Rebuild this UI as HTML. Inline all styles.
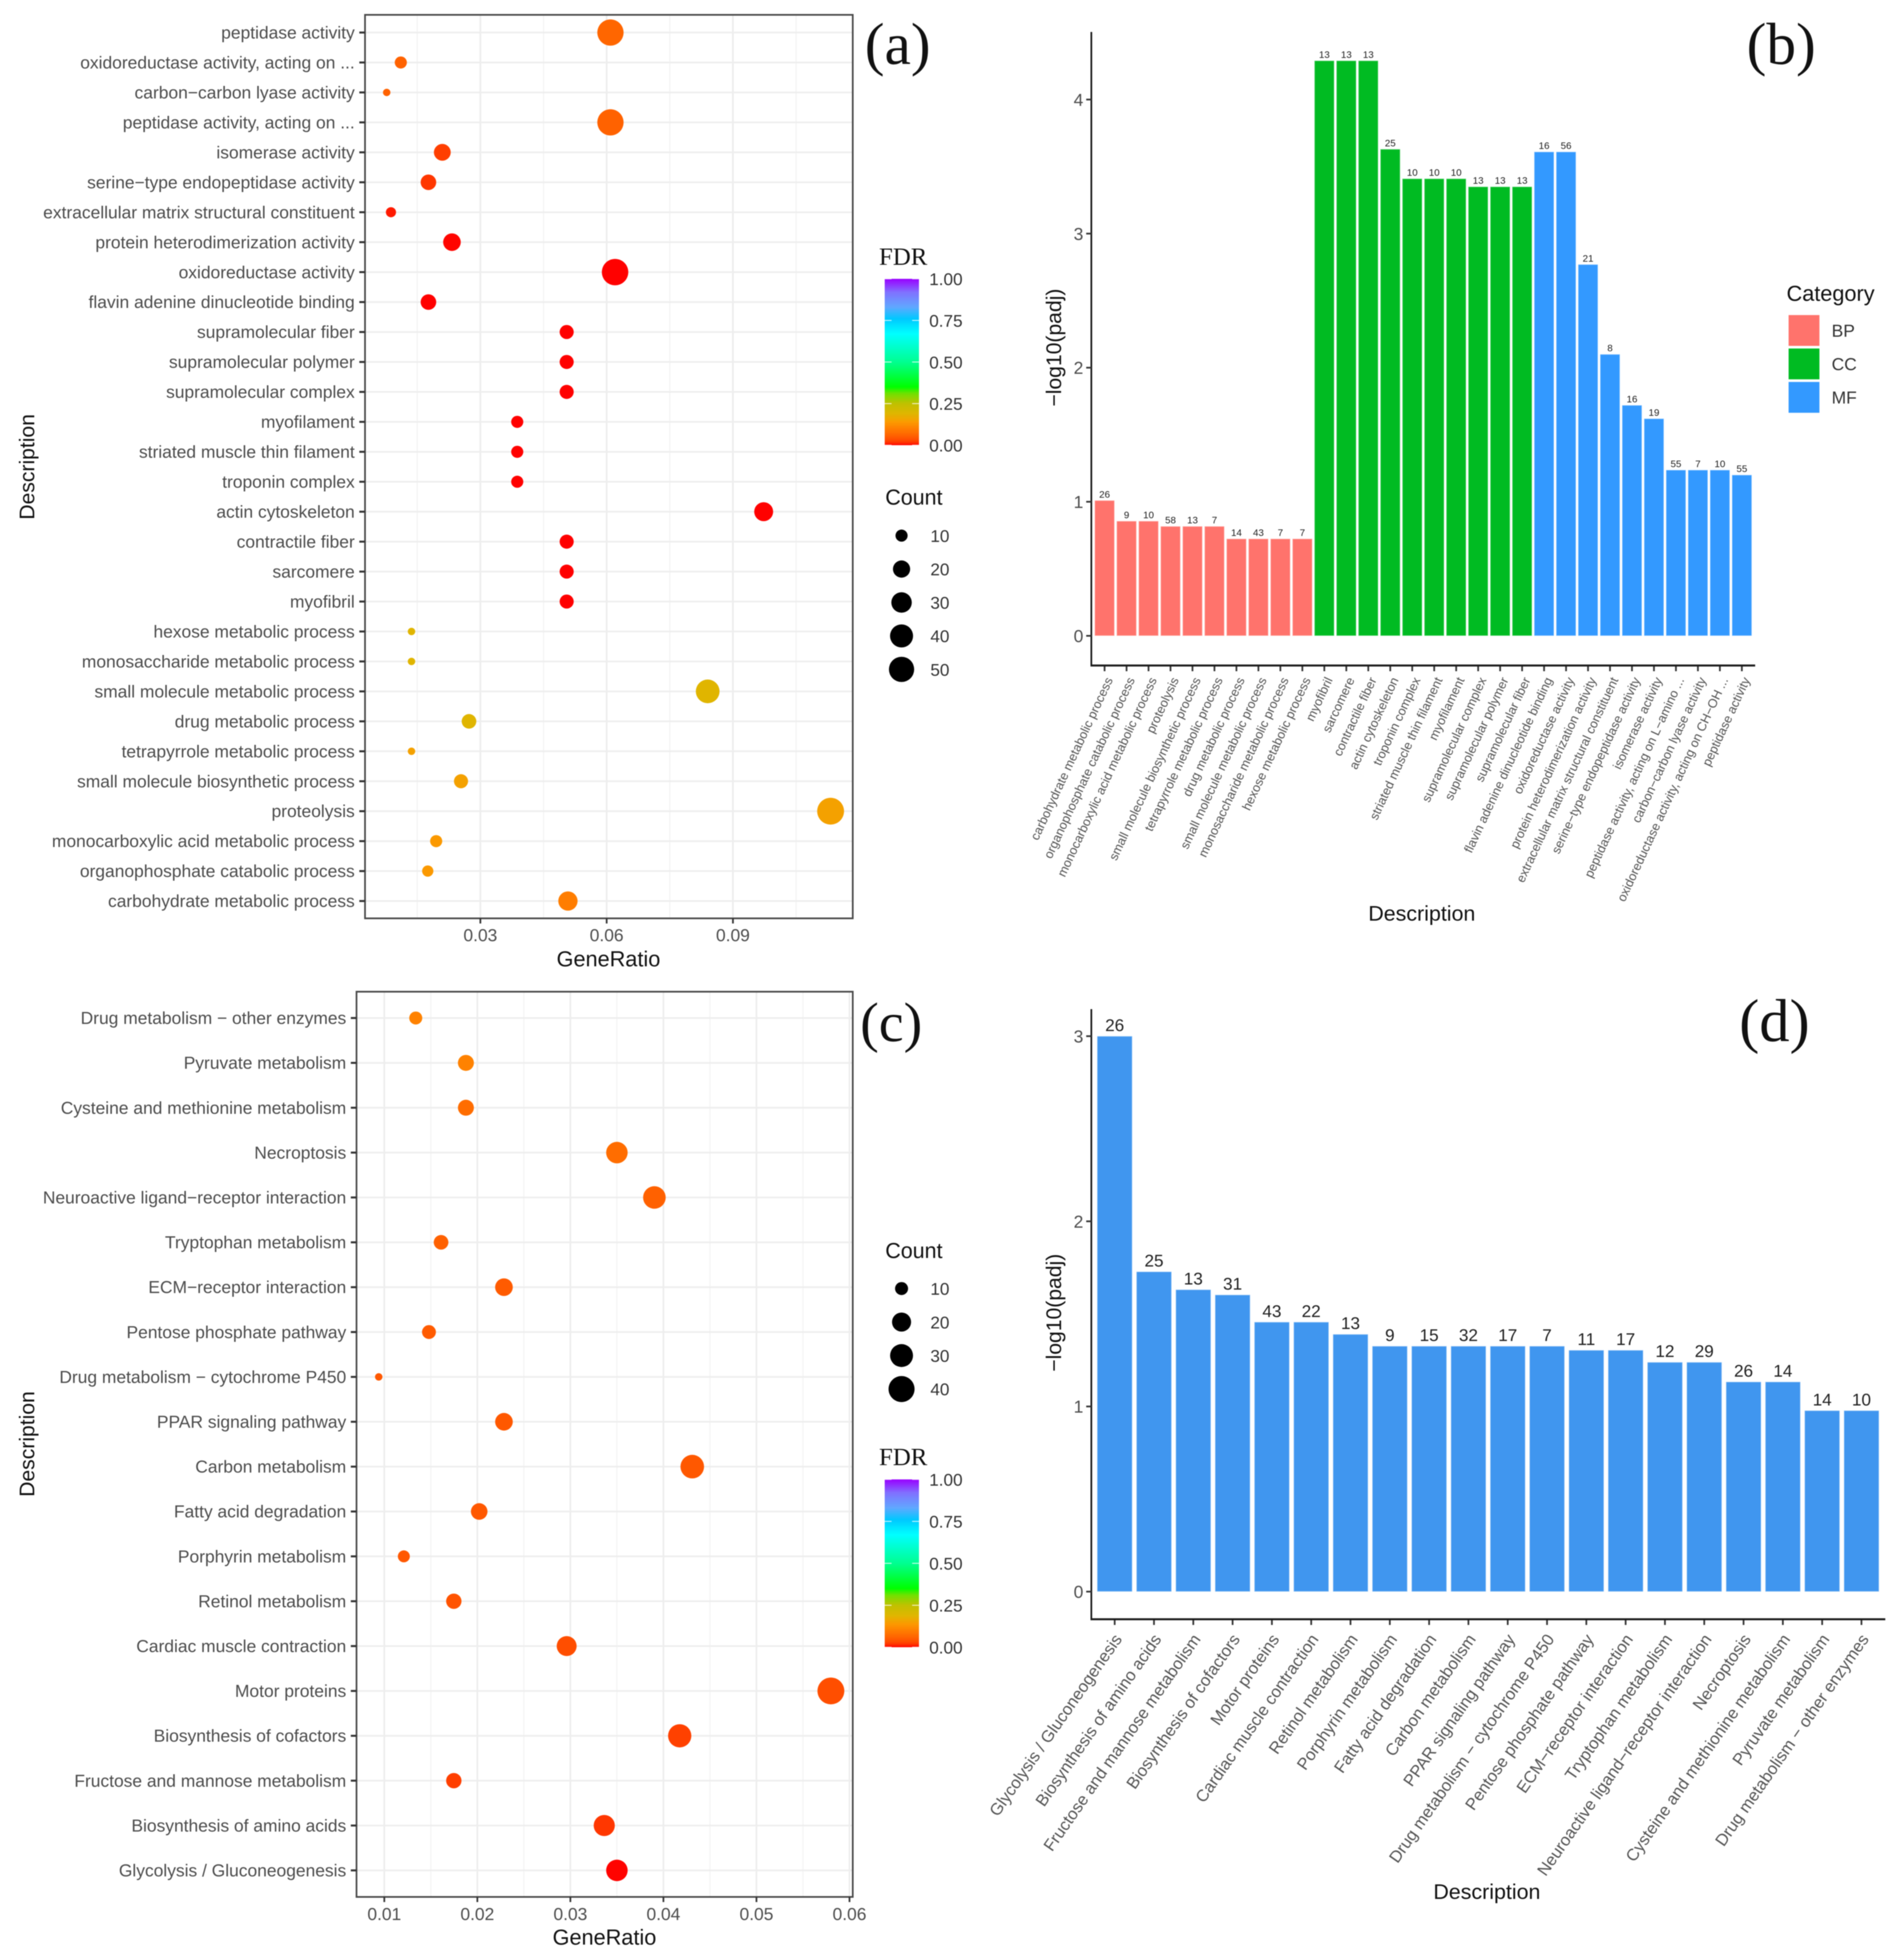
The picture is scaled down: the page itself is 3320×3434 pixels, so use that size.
<!DOCTYPE html>
<html lang="en">
<head>
<meta charset="utf-8">
<title>GO and KEGG enrichment charts</title>
<style>
html,body{margin:0;padding:0;background:#fff}
svg{display:block;filter:blur(0.9px)}
text{font-family:"Liberation Sans",sans-serif}
.serif{font-family:"Liberation Serif",serif}
</style>
</head>
<body>
<svg id="figure" xmlns="http://www.w3.org/2000/svg" width="3320" height="3434" viewBox="0 0 3320 3434">
<rect x="0" y="0" width="3320" height="3434" fill="#ffffff"/>
<defs>
<linearGradient id="fdrGradient" x1="0" y1="1" x2="0" y2="0"></linearGradient>
</defs>
<g id="panelA"></g>
<g id="panelB"></g>
<g id="panelC"></g>
<g id="panelD"></g>

<text class="serif" x="1515" y="112" font-size="104" fill="#111">(a)</text>
<text class="serif" x="3060" y="112" font-size="104" fill="#111">(b)</text>
<text class="serif" x="1507" y="1824" font-size="98" fill="#111">(c)</text>
<text class="serif" x="3047" y="1824" font-size="106" fill="#111">(d)</text>

<text x="1066" y="1693" font-size="38" text-anchor="middle" fill="#111">GeneRatio</text>
<text transform="translate(60,818) rotate(-90)" font-size="37" text-anchor="middle" fill="#111">Description</text>
<text x="1059" y="3407" font-size="38" text-anchor="middle" fill="#111">GeneRatio</text>
<text transform="translate(60,2530) rotate(-90)" font-size="37" text-anchor="middle" fill="#111">Description</text>
<text x="2491" y="1613" font-size="37.5" text-anchor="middle" fill="#111">Description</text>
<text transform="translate(1859,609) rotate(-90)" font-size="37" text-anchor="middle" fill="#111">−log10(padj)</text>
<text x="2605" y="3327" font-size="37.5" text-anchor="middle" fill="#111">Description</text>
<text transform="translate(1859,2300) rotate(-90)" font-size="37" text-anchor="middle" fill="#111">−log10(padj)</text>

<text class="serif" x="1540" y="464" font-size="43.5" fill="#111">FDR</text>
<text x="1551" y="884" font-size="37.6" fill="#111">Count</text>
<text class="serif" x="1540" y="2567" font-size="43.5" fill="#111">FDR</text>
<text x="1551" y="2204" font-size="37.6" fill="#111">Count</text>
<text x="3130" y="527" font-size="38" fill="#111">Category</text>
</svg>

<script>
/* ---------- panel (a) data ---------- */
const aLabels = ["peptidase activity","oxidoreductase activity, acting on ...","carbon\u2212carbon lyase activity","peptidase activity, acting on ...","isomerase activity","serine\u2212type endopeptidase activity","extracellular matrix structural constituent","protein heterodimerization activity","oxidoreductase activity","flavin adenine dinucleotide binding","supramolecular fiber","supramolecular polymer","supramolecular complex","myofilament","striated muscle thin filament","troponin complex","actin cytoskeleton","contractile fiber","sarcomere","myofibril","hexose metabolic process","monosaccharide metabolic process","small molecule metabolic process","drug metabolic process","tetrapyrrole metabolic process","small molecule biosynthetic process","proteolysis","monocarboxylic acid metabolic process","organophosphate catabolic process","carbohydrate metabolic process"];
const aGeneRatio = [0.0609,0.0111,0.00775,0.0609,0.02096,0.01766,0.00876,0.02325,0.062,0.01766,0.0505,0.0505,0.0505,0.03876,0.03876,0.03876,0.0973,0.0505,0.0505,0.0505,0.01364,0.01364,0.084,0.0273,0.01364,0.0254,0.1132,0.0195,0.0175,0.0508];
const aCount = [55,10,7,55,19,16,8,21,56,16,13,13,13,10,10,10,25,13,13,13,7,7,43,14,7,13,58,10,9,26];
const aFdr = [0.063,0.058,0.058,0.058,0.024,0.019,0.008,0.0017,0.00025,0.00025,0.00045,0.00045,0.00045,0.0004,0.0004,0.0004,0.00023,0.00005,0.00005,0.00005,0.189,0.189,0.189,0.189,0.152,0.152,0.152,0.139,0.139,0.098];
const aXTicks = [0.03,0.06,0.09];
const aXTickLabels = ["0.03","0.06","0.09"];
const aXMinor = [0.015,0.045,0.075,0.105];
const aCountLegend = [10,20,30,40,50];

/* ---------- panel (b) data ---------- */
const bLabels = ["carbohydrate metabolic process","organophosphate catabolic process","monocarboxylic acid metabolic process","proteolysis","small molecule biosynthetic process","tetrapyrrole metabolic process","drug metabolic process","small molecule metabolic process","monosaccharide metabolic process","hexose metabolic process","myofibril","sarcomere","contractile fiber","actin cytoskeleton","troponin complex","striated muscle thin filament","myofilament","supramolecular complex","supramolecular polymer","supramolecular fiber","flavin adenine dinucleotide binding","oxidoreductase activity","protein heterodimerization activity","extracellular matrix structural constituent","serine\u2212type endopeptidase activity","isomerase activity","peptidase activity, acting on L\u2212amino ...","carbon\u2212carbon lyase activity","oxidoreductase activity, acting on CH\u2212OH ...","peptidase activity"];
const bValues = [1.01,0.856,0.856,0.817,0.817,0.817,0.724,0.724,0.724,0.724,4.29,4.29,4.29,3.63,3.41,3.41,3.41,3.35,3.35,3.35,3.61,3.61,2.77,2.10,1.72,1.62,1.237,1.237,1.237,1.20];
const bCounts = [26,9,10,58,13,7,14,43,7,7,13,13,13,25,10,10,10,13,13,13,16,56,21,8,16,19,55,7,10,55];
const bCategories = ["BP","BP","BP","BP","BP","BP","BP","BP","BP","BP","CC","CC","CC","CC","CC","CC","CC","CC","CC","CC","MF","MF","MF","MF","MF","MF","MF","MF","MF","MF"];
const bYTicks = [0,1,2,3,4];
const bLegendKeys = ["BP","CC","MF"];

/* ---------- panel (c) data ---------- */
const cLabels = ["Drug metabolism \u2212 other enzymes","Pyruvate metabolism","Cysteine and methionine metabolism","Necroptosis","Neuroactive ligand\u2212receptor interaction","Tryptophan metabolism","ECM\u2212receptor interaction","Pentose phosphate pathway","Drug metabolism \u2212 cytochrome P450","PPAR signaling pathway","Carbon metabolism","Fatty acid degradation","Porphyrin metabolism","Retinol metabolism","Cardiac muscle contraction","Motor proteins","Biosynthesis of cofactors","Fructose and mannose metabolism","Biosynthesis of amino acids","Glycolysis / Gluconeogenesis"];
const cGeneRatio = [0.01338,0.01877,0.01877,0.035,0.03903,0.0161,0.02286,0.0148,0.0094,0.02286,0.0431,0.0202,0.0121,0.01747,0.0296,0.058,0.04175,0.01747,0.03364,0.035];
const cCount = [10,14,14,26,29,12,17,11,7,17,32,15,9,13,22,43,31,13,25,26];
const cFdr = [0.105,0.105,0.0736,0.0736,0.0577,0.0577,0.0497,0.0497,0.0472,0.0472,0.0472,0.0472,0.0472,0.0407,0.035,0.035,0.025,0.0234,0.0187,0.001];
const cXTicks = [0.01,0.02,0.03,0.04,0.05,0.06];
const cXTickLabels = ["0.01","0.02","0.03","0.04","0.05","0.06"];
const cXMinor = [0.015,0.025,0.035,0.045,0.055];
const cCountLegend = [10,20,30,40];

/* ---------- panel (d) data ---------- */
const dLabels = ["Glycolysis / Gluconeogenesis","Biosynthesis of amino acids","Fructose and mannose metabolism","Biosynthesis of cofactors","Motor proteins","Cardiac muscle contraction","Retinol metabolism","Porphyrin metabolism","Fatty acid degradation","Carbon metabolism","PPAR signaling pathway","Drug metabolism \u2212 cytochrome P450","Pentose phosphate pathway","ECM\u2212receptor interaction","Tryptophan metabolism","Neuroactive ligand\u2212receptor interaction","Necroptosis","Cysteine and methionine metabolism","Pyruvate metabolism","Drug metabolism \u2212 other enzymes"];
const dValues = [3.0,1.728,1.631,1.603,1.456,1.456,1.39,1.326,1.326,1.326,1.326,1.326,1.304,1.304,1.239,1.239,1.133,1.133,0.978,0.978];
const dCounts = [26,25,13,31,43,22,13,9,15,32,17,7,11,17,12,29,26,14,14,10];
const dYTicks = [0,1,2,3];

/* ---------- shared legend data ---------- */
const fdrLegendTicks = [0,0.25,0.5,0.75,1];
const fdrLegendLabels = ["0.00","0.25","0.50","0.75","1.00"];
const fdrScaleDomain = [0,0.01,0.02,0.035,0.063,0.1,0.14,0.19,0.25,0.31,0.35,0.5,0.67,0.76,0.83,0.92,1];
const fdrScaleColors = ["#ff0000","#ff2000","#ff3a00","#ff4e00","#ff6600","#ff7e00","#fb9a00","#dfb600","#c0c000","#70e000","#00ff00","#00ff90","#00ffff","#00c8ff","#60a8ff","#8070ff","#9900ff"];

/* ---------- helpers ---------- */
const NS = "http://www.w3.org/2000/svg";
function mk(parent, tag, attrs, content){
  const e = document.createElementNS(NS, tag);
  for(const k in attrs) e.setAttribute(k, attrs[k]);
  if(content !== undefined) e.textContent = content;
  parent.appendChild(e);
  return e;
}
function hex(c){return [parseInt(c.slice(1,3),16),parseInt(c.slice(3,5),16),parseInt(c.slice(5,7),16)];}
function fdrColor(v){
  for(let i=1;i<fdrScaleDomain.length;i++){
    if(v<=fdrScaleDomain[i]){
      const t=(v-fdrScaleDomain[i-1])/(fdrScaleDomain[i]-fdrScaleDomain[i-1]);
      const a=hex(fdrScaleColors[i-1]),b=hex(fdrScaleColors[i]);
      return "rgb("+a.map((x,j)=>Math.round(x+(b[j]-x)*t)).join(",")+")";
    }
  }
  return fdrScaleColors[fdrScaleColors.length-1];
}
function sizeScale(count, lo, hi){
  return 13 + 34*Math.sqrt((count-lo)/(hi-lo));
}

/* gradient for the FDR colour bars */
const grad = document.getElementById("fdrGradient");
fdrScaleDomain.forEach(function(d,i){
  mk(grad,"stop",{offset:d,"stop-color":fdrScaleColors[i]});
});

/* ---------- dot plot ---------- */
function dotPlot(cfg){
  const g = cfg.g;
  const x = cfg.x, y = cfg.y;
  const frame = cfg.frame;
  cfg.minor.forEach(function(t){
    const el = mk(g,"line",{x1:x(t),x2:x(t),y1:frame.top,y2:frame.bottom,stroke:"#f2f2f2","stroke-width":1.8});
    
    
  });
  cfg.ticks.forEach(function(t){
    const el = mk(g,"line",{x1:x(t),x2:x(t),y1:frame.top,y2:frame.bottom,stroke:"#ededed","stroke-width":3});
    
    
  });
  cfg.labels.forEach(function(l,i){
    const el = mk(g,"line",{x1:frame.left,x2:frame.right,y1:y(i),y2:y(i),stroke:"#eeeeee","stroke-width":3});
    
    
  });
  cfg.labels.forEach(function(l,i){
    const d = sizeScale(cfg.count[i],cfg.lo,cfg.hi);
    const el = mk(g,"circle",{cx:x(cfg.ratio[i]),cy:y(i),r:d/2,fill:fdrColor(cfg.fdr[i])});
    
    
  });
  const border = mk(g,"rect",{x:frame.left,y:frame.top,width:frame.right-frame.left,height:frame.bottom-frame.top,fill:"none",stroke:"#4a4a4a","stroke-width":3});
  
  
  cfg.labels.forEach(function(l,i){
    const tick = mk(g,"line",{x1:frame.left-10,x2:frame.left,y1:y(i),y2:y(i),stroke:"#333","stroke-width":3.5});
    
    
    const label = mk(g,"text",{x:frame.left-18,y:y(i)+10.5,"font-size":30.5,"text-anchor":"end",fill:"#4d4d4d"},l);
    
    
  });
  cfg.ticks.forEach(function(t,i){
    const tick = mk(g,"line",{x1:x(t),x2:x(t),y1:frame.bottom,y2:frame.bottom+9,stroke:"#333","stroke-width":3});
    
    
    const label = mk(g,"text",{x:x(t),y:cfg.xLabelY,"font-size":30.5,"text-anchor":"middle",fill:"#4d4d4d"},cfg.tickLabels[i]);
    
    
  });
}

function colorBar(g, top, bottom){
  const bar = mk(g,"rect",{x:1550,y:top,width:60,height:bottom-top,fill:"url(#fdrGradient)"});
  
  
  fdrLegendTicks.forEach(function(t,i){
    const yy = bottom-(bottom-top)*t;
    const left = mk(g,"line",{x1:1550,x2:1562,y1:yy,y2:yy,stroke:"#ffffff","stroke-width":1.6,"stroke-opacity":0.8});
    
    
    const right = mk(g,"line",{x1:1598,x2:1610,y1:yy,y2:yy,stroke:"#ffffff","stroke-width":1.6,"stroke-opacity":0.8});
    
    
    const label = mk(g,"text",{x:1628,y:yy+11,"font-size":30,fill:"#333"},fdrLegendLabels[i]);
    
    
  });
}

function countLegend(g, values, startY, stepY, lo, hi){
  values.forEach(function(c,i){
    const yy = startY+i*stepY;
    const dot = mk(g,"circle",{cx:1579.5,cy:yy,r:sizeScale(c,lo,hi)/2,fill:"#000"});
    
    
    const label = mk(g,"text",{x:1630,y:yy+11,"font-size":30,fill:"#333"},String(c));
    
    
  });
}

/* ---------- bar chart ---------- */
function barChart(cfg){
  const g = cfg.g;
  cfg.labels.forEach(function(l,i){
    const cx = cfg.x(i);
    const top = cfg.y(cfg.values[i]);
    const base = cfg.y(0);
    const bar = mk(g,"rect",{x:cx-cfg.barW/2,y:top,width:cfg.barW,height:base-top,fill:cfg.color(i),stroke:"#ffffff","stroke-opacity":0.45,"stroke-width":1.6});
    
    
    const val = mk(g,"text",{x:cx,y:top-cfg.valueGap,"font-size":cfg.valueSize,"text-anchor":"middle",fill:"#222"},String(cfg.counts[i]));
    
    
    const tick = mk(g,"line",{x1:cx,x2:cx,y1:cfg.axisY,y2:cfg.axisY+10,stroke:"#333","stroke-width":3});
    
    
    const ex = cx+cfg.labelDx, ey = cfg.labelY;
    const label = mk(g,"text",{transform:"translate("+ex+","+ey+") rotate("+(-cfg.angle)+")","font-size":cfg.labelSize,"text-anchor":"end",fill:"#555555"},l);
    
    
  });
  const yAxis = mk(g,"line",{x1:cfg.axisX,x2:cfg.axisX,y1:cfg.axisTop,y2:cfg.axisY+1.5,stroke:"#1a1a1a","stroke-width":3});
  
  
  const xAxis = mk(g,"line",{x1:cfg.axisX-1.5,x2:cfg.axisRight,y1:cfg.axisY,y2:cfg.axisY,stroke:"#1a1a1a","stroke-width":3.5});
  
  
  cfg.yTicks.forEach(function(t){
    const tick = mk(g,"line",{x1:cfg.axisX-9,x2:cfg.axisX,y1:cfg.y(t),y2:cfg.y(t),stroke:"#333","stroke-width":3});
    
    
    const label = mk(g,"text",{x:cfg.axisX-14,y:cfg.y(t)+11,"font-size":30.5,"text-anchor":"end",fill:"#4d4d4d"},String(t));
    
    
  });
}

/* ---------- render ---------- */
const categoryColor = {BP:"#ff736c",CC:"#00bb22",MF:"#3399ff"};

const panelA = document.getElementById("panelA");
dotPlot({
  g:panelA,
  x:function(v){return 841.6+(v-0.03)*7375;},
  y:function(i){return 57+i*52.47;},
  frame:{left:639.5,right:1494,top:26,bottom:1609},
  labels:aLabels,ratio:aGeneRatio,count:aCount,fdr:aFdr,
  ticks:aXTicks,tickLabels:aXTickLabels,minor:aXMinor,
  lo:7,hi:58,xLabelY:1649
});
colorBar(panelA,488.5,780);
countLegend(panelA,aCountLegend,938.4,58.6,7,58);

const panelC = document.getElementById("panelC");
dotPlot({
  g:panelC,
  x:function(v){return 673.3+(v-0.01)*16300;},
  y:function(i){return 1783.6+i*78.6;},
  frame:{left:624.6,right:1494,top:1737.5,bottom:3323.5},
  labels:cLabels,ratio:cGeneRatio,count:cCount,fdr:cFdr,
  ticks:cXTicks,tickLabels:cXTickLabels,minor:cXMinor,
  lo:7,hi:43,xLabelY:3364
});
colorBar(panelC,2592,2886);
countLegend(panelC,cCountLegend,2257.6,58.7,7,43);

const panelB = document.getElementById("panelB");
barChart({
  g:panelB,
  x:function(i){return 1935.2+i*38.5;},
  y:function(v){return 1114-234.9*v;},
  labels:bLabels,values:bValues,counts:bCounts,
  color:function(i){return categoryColor[bCategories[i]];},
  barW:34.7,valueGap:5,valueSize:17,
  axisX:1912,axisY:1166,axisTop:56,axisRight:3075,
  labelDx:15,labelY:1191,labelSize:22,angle:65,
  yTicks:bYTicks
});
bLegendKeys.forEach(function(k,i){
  const yy = 552+i*58.6;
  const key = mk(panelB,"rect",{x:3133.6,y:yy,width:54,height:54,fill:categoryColor[k]});
  
  
  const label = mk(panelB,"text",{x:3209,y:yy+38,"font-size":30.5,fill:"#333"},k);
  
  
});

const panelD = document.getElementById("panelD");
barChart({
  g:panelD,
  x:function(i){return 1952.9+i*68.86;},
  y:function(v){return 2788.6-324.4*v;},
  labels:dLabels,values:dValues,counts:dCounts,
  color:function(){return "#4096ef";},
  barW:61.5,valueGap:9,valueSize:30,
  axisX:1912,axisY:2837,axisTop:1768,axisRight:3303,
  labelDx:14,labelY:2872,labelSize:29.2,angle:55,
  yTicks:dYTicks
});
</script>
</body>
</html>
